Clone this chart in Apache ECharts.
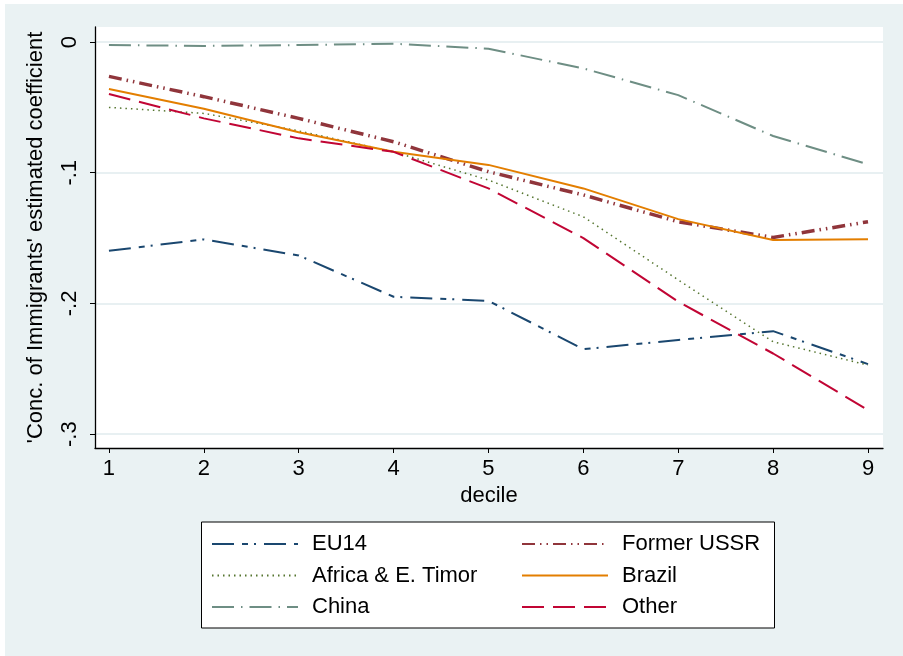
<!DOCTYPE html>
<html>
<head>
<meta charset="utf-8">
<script src="https://cdn.jsdelivr.net/npm/echarts@6/dist/echarts.min.js"></script>
<style>
html,body{margin:0;padding:0;background:#fff;}
#panel{position:absolute;left:5px;top:4px;width:898px;height:652px;background:#eaf2f3;}
#main{position:absolute;left:0;top:0;width:903px;height:656px;}
</style>
</head>
<body>
<div id="panel"></div>
<div id="main"></div>
<script>
const deciles = [1, 2, 3, 4, 5, 6, 7, 8, 9];
const xTicks = [1, 2, 3, 4, 5, 6, 7, 8, 9];
const yTicks = [0, -0.1, -0.2, -0.3];
const yTickLabels = ['0', '-.1', '-.2', '-.3'];

const eu14 = [-0.1597, -0.1510, -0.1633, -0.1949, -0.1980, -0.2350, -0.2280, -0.2212, -0.2464];
const formerUSSR = [-0.0263, -0.0418, -0.0584, -0.0763, -0.0992, -0.1170, -0.1375, -0.1495, -0.1375];
const africa = [-0.0500, -0.0546, -0.0680, -0.0840, -0.1056, -0.1337, -0.1820, -0.2293, -0.2472];
const brazil = [-0.0360, -0.0510, -0.0690, -0.0840, -0.0940, -0.1120, -0.1355, -0.1515, -0.1508];
const china = [-0.0023, -0.0030, -0.0023, -0.0013, -0.0051, -0.0202, -0.0406, -0.0719, -0.0936];
const other = [-0.0398, -0.0584, -0.0737, -0.0840, -0.1120, -0.1500, -0.1987, -0.2383, -0.2816];

const FONT = 'Liberation Sans';
const FS = 22;
function pairs(arr){ return deciles.map((d,i)=>[d, arr[i]]); }
function mk(name, data, color, width, dash){
  return {name:name, type:'line', data:pairs(data), symbol:'none', showSymbol:false, smooth:false,
    lineStyle:{color:color, width:width, type:dash}, itemStyle:{color:color}, z:3};
}
const legendCommon = {orient:'vertical', top:528, itemWidth:86, itemHeight:14, itemGap:9.5,
  itemStyle:{opacity:0, borderWidth:0},
  textStyle:{fontFamily:FONT, fontSize:FS, color:'#000', padding:[0,0,0,9]}, z:5};
const chart = echarts.init(document.getElementById('main'), null, {renderer:'canvas'});
chart.setOption({
  backgroundColor:'transparent',
  animation:false,
  textStyle:{fontFamily:FONT},
  grid:{left:95, right:20, top:27, bottom:208, show:true, backgroundColor:'#ffffff', borderWidth:0},
  xAxis:{type:'value', min:0.853, max:9.158, name:'decile', nameLocation:'middle', nameGap:36,
    nameTextStyle:{fontFamily:FONT, fontSize:FS, color:'#000'},
    axisLine:{show:true, onZero:false, lineStyle:{color:'#000', width:1.3}},
    axisTick:{show:true, length:5, customValues:xTicks, lineStyle:{color:'#000', width:1}},
    axisLabel:{customValues:xTicks, fontFamily:FONT, fontSize:FS, color:'#000', margin:10},
    splitLine:{show:false}},
  yAxis:{type:'value', min:-0.3106, max:0.0115, name:"'Conc. of Immigrants' estimated coefficient",
    nameLocation:'middle', nameRotate:90, nameGap:48,
    nameTextStyle:{fontFamily:FONT, fontSize:FS, color:'#000'},
    axisLine:{show:true, onZero:false, lineStyle:{color:'#000', width:1.3}},
    axisTick:{show:true, length:5, customValues:yTicks, lineStyle:{color:'#000', width:1}},
    axisLabel:{customValues:yTicks, rotate:90, fontFamily:FONT, fontSize:FS, color:'#000', margin:14,
      formatter:function(v){ const i = yTicks.findIndex(t=>Math.abs(t-v)<1e-9); return i>=0 ? yTickLabels[i] : ''; }},
    splitLine:{show:true, lineStyle:{color:'#e8f0f2', width:2}}},
  graphic:[{type:'rect', shape:{x:201.5, y:522, width:573, height:106}, style:{fill:'#fff', stroke:'#000', lineWidth:1}, z:1}],
  legend:[
    Object.assign({left:206, data:['EU14','Africa & E. Timor','China']}, legendCommon),
    Object.assign({left:516, data:['Former USSR','Brazil','Other']}, legendCommon)
  ],
  series:[
    mk('EU14', eu14, '#1a476f', 2, [22,8,6,6,2,8]),
    mk('Former USSR', formerUSSR, '#90353b', 3.5, [13,5,1.5,5,1.5,5]),
    mk('Africa & E. Timor', africa, '#55752f', 1.5, [1.5,4]),
    mk('Brazil', brazil, '#e37e00', 2, 'solid'),
    mk('China', china, '#6e8e84', 2, [22,7,1.5,7]),
    mk('Other', other, '#c10534', 2, [22,9])
  ]
});
</script>
</body>
</html>
